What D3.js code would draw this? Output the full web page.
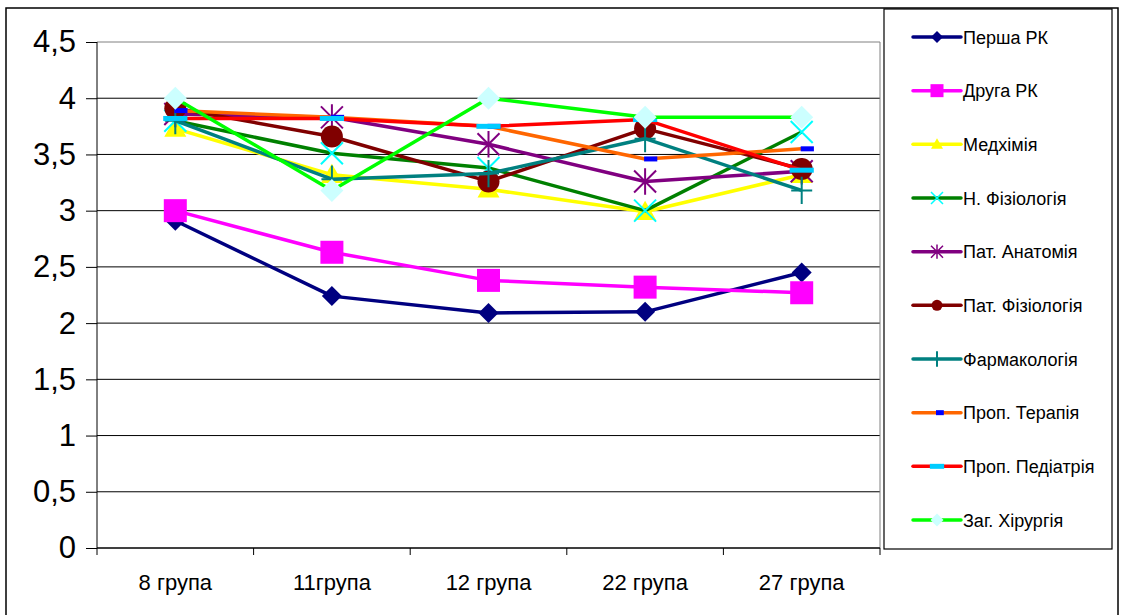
<!DOCTYPE html>
<html>
<head>
<meta charset="utf-8">
<script src="https://cdn.jsdelivr.net/npm/d3@7"></script>
<style>
  html, body { margin: 0; padding: 0; background: #fff; }
  svg { display: block; font-family: "Liberation Sans", Arial, sans-serif; }
</style>
</head>
<body>
<svg id="chart" width="1123" height="615"></svg>
<script>
// Categories (student groups) and y-axis ticks
const categories = ["8 група", "11група", "12 група", "22 група", "27 група"];
const yTickValues = [0, 0.5, 1, 1.5, 2, 2.5, 3, 3.5, 4, 4.5];

// Average marks per subject, one array per series
const pershaRK      = [2.91, 2.24, 2.09, 2.10, 2.45];
const drugaRK       = [3.00, 2.63, 2.38, 2.32, 2.27];
const medkhimiya    = [3.73, 3.32, 3.19, 2.99, 3.32];
const nFiziologiya  = [3.80, 3.51, 3.38, 3.00, 3.70];
const patAnatomiya  = [3.86, 3.83, 3.59, 3.26, 3.35];
const patFiziologiya= [3.91, 3.66, 3.26, 3.73, 3.37];
const farmakologiya = [3.80, 3.28, 3.33, 3.64, 3.18];
const propTerapiya  = [3.89, 3.83, 3.75, 3.46, 3.55];
const propPediatriya= [3.82, 3.82, 3.75, 3.81, 3.36];
const zagKhirurgiya = [4.00, 3.18, 4.00, 3.83, 3.83];

const seriesNames = ["Перша РК", "Друга РК", "Медхімія", "Н. Фізіологія", "Пат. Анатомія",
  "Пат. Фізіологія", "Фармакологія", "Проп. Терапія", "Проп. Педіатрія", "Заг. Хірургія"];
const seriesValues = [pershaRK, drugaRK, medkhimiya, nFiziologiya, patAnatomiya,
  patFiziologiya, farmakologiya, propTerapiya, propPediatriya, zagKhirurgiya];
const lineColors = ["#000080", "#FF00FF", "#FFFF00", "#008000", "#800080",
  "#800000", "#008080", "#FF6600", "#FF0000", "#00FF00"];
const markerTypes = ["diamond", "square", "triangle", "x", "star",
  "circle", "plus", "dash", "dashWide", "diamond"];
const markerColors = ["#000080", "#FF00FF", "#FFFF00", "#00FFFF", "#800080",
  "#800000", "#008080", "#0000FF", "#00CCFF", "#CCFFFF"];

const svg = d3.select("#chart");

// Outer chart frame
svg.append("rect").attr("x", 6).attr("y", 8).attr("width", 1112).attr("height", 620)
  .attr("fill", "#fff").attr("stroke", "#000").attr("stroke-width", 1.5);

const plot = { left: 97, right: 880, top: 42, bottom: 548 };

const x = d3.scaleBand().domain(categories).range([plot.left, plot.right]);
const y = d3.scaleLinear().domain([0, 4.5]).range([plot.bottom, plot.top]);
const cx = c => x(c) + x.bandwidth() / 2;

// Horizontal gridlines
svg.append("g").selectAll("line").data(yTickValues).join("line")
  .attr("x1", plot.left).attr("x2", plot.right)
  .attr("y1", d => y(d)).attr("y2", d => y(d))
  .attr("stroke", d => d === 4.5 ? "#808080" : "#000").attr("stroke-width", 1);

// Plot area right edge
svg.append("line").attr("x1", plot.right).attr("x2", plot.right)
  .attr("y1", plot.top).attr("y2", plot.bottom).attr("stroke", "#808080");

// Y axis
const yAxis = d3.axisLeft(y).tickValues(yTickValues).tickSize(11).tickPadding(10)
  .tickFormat(d => String(d).replace(".", ","));
const yg = svg.append("g").attr("transform", `translate(${plot.left},0)`).call(yAxis);
yg.select(".domain").attr("stroke", "#000").attr("d", `M0,${plot.top}V${plot.bottom}`);
yg.selectAll(".tick line").attr("stroke", "#000");
yg.selectAll(".tick text").attr("font-size", 31).attr("fill", "#000")
  .attr("font-family", "Liberation Sans, Arial, sans-serif");

// X axis: ticks between categories
const xg = svg.append("g").attr("transform", `translate(0,${plot.bottom})`);
xg.append("line").attr("x1", plot.left).attr("x2", plot.right).attr("stroke", "#000");
const boundaries = categories.map(c => x(c)).concat([plot.right]);
xg.selectAll("line.tk").data(boundaries).join("line").attr("class", "tk")
  .attr("x1", d => d).attr("x2", d => d).attr("y1", 0).attr("y2", 7).attr("stroke", "#000");
xg.selectAll("text").data(categories).join("text")
  .attr("x", d => cx(d)).attr("y", 42).attr("text-anchor", "middle")
  .attr("font-size", 22).attr("fill", "#000").text(d => d);

// Marker drawing
function drawMarker(g, type, px, py, s, color) {
  switch (type) {
    case "diamond":
      g.append("path").attr("d", `M${px},${py - s}L${px + s},${py}L${px},${py + s}L${px - s},${py}Z`)
        .attr("fill", color);
      break;
    case "square":
      g.append("rect").attr("x", px - s).attr("y", py - s).attr("width", 2 * s).attr("height", 2 * s)
        .attr("fill", color);
      break;
    case "triangle":
      g.append("path").attr("d", `M${px},${py - s}L${px + s},${py + s * 0.75}L${px - s},${py + s * 0.75}Z`)
        .attr("fill", color);
      break;
    case "x":
      g.append("path").attr("d", `M${px - s},${py - s}L${px + s},${py + s}M${px - s},${py + s}L${px + s},${py - s}`)
        .attr("stroke", color).attr("stroke-width", s > 7 ? 2 : 1.5).attr("fill", "none");
      break;
    case "star":
      g.append("path").attr("d", `M${px - s},${py - s}L${px + s},${py + s}M${px - s},${py + s}L${px + s},${py - s}M${px},${py - s * 1.2}L${px},${py + s * 1.2}`)
        .attr("stroke", color).attr("stroke-width", s > 7 ? 2 : 1.5).attr("fill", "none");
      break;
    case "circle":
      g.append("circle").attr("cx", px).attr("cy", py).attr("r", s).attr("fill", color);
      break;
    case "plus":
      g.append("path").attr("d", (s > 7 ? `M${px - s},${py}L${px + s},${py}` : "") + `M${px},${py - s * 1.3}L${px},${py + s * 1.3}`)
        .attr("stroke", color).attr("stroke-width", 2).attr("fill", "none");
      break;
    case "dash":
      g.append("rect").attr("x", px - 1).attr("y", py - 2.5).attr("width", s * 1.2).attr("height", 5)
        .attr("fill", color);
      break;
    case "dashWide":
      g.append("rect").attr("x", px - s * 1.1).attr("y", py - 2.5).attr("width", s * 2.2).attr("height", 5)
        .attr("fill", color);
      break;
  }
}

const plotSizes = [10, 11.5, 11, 11, 11, 11, 10.5, 11, 11, 11.5];
const line = d3.line().x((d, i) => cx(categories[i])).y(d => y(d));

seriesValues.forEach((vals, si) => {
  const g = svg.append("g");
  g.append("path").attr("d", line(vals)).attr("fill", "none")
    .attr("stroke", lineColors[si]).attr("stroke-width", 3.5).attr("stroke-linejoin", "round");
  vals.forEach((v, i) => drawMarker(g, markerTypes[si], cx(categories[i]), y(v), plotSizes[si], markerColors[si]));
});

// Legend
const legend = svg.append("g");
legend.append("rect").attr("x", 884).attr("y", 9).attr("width", 228).attr("height", 540)
  .attr("fill", "#fff").attr("stroke", "#000").attr("stroke-width", 1.2);
const legendY = d3.scalePoint().domain(seriesNames).range([37, 520]);
const legendSizes = [6, 6.5, 6, 6, 6, 5.5, 6, 6.5, 6.5, 6.5];
seriesNames.forEach((name, si) => {
  const ly = legendY(name);
  legend.append("line").attr("x1", 913).attr("x2", 961).attr("y1", ly).attr("y2", ly)
    .attr("stroke", lineColors[si]).attr("stroke-width", 3.5).attr("stroke-linecap", "round");
  drawMarker(legend, markerTypes[si], 937, ly, legendSizes[si], markerColors[si]);
  legend.append("text").attr("x", 963).attr("y", ly + 6.5).attr("font-size", 18)
    .attr("fill", "#000").text(name);
});
</script>
</body>
</html>
